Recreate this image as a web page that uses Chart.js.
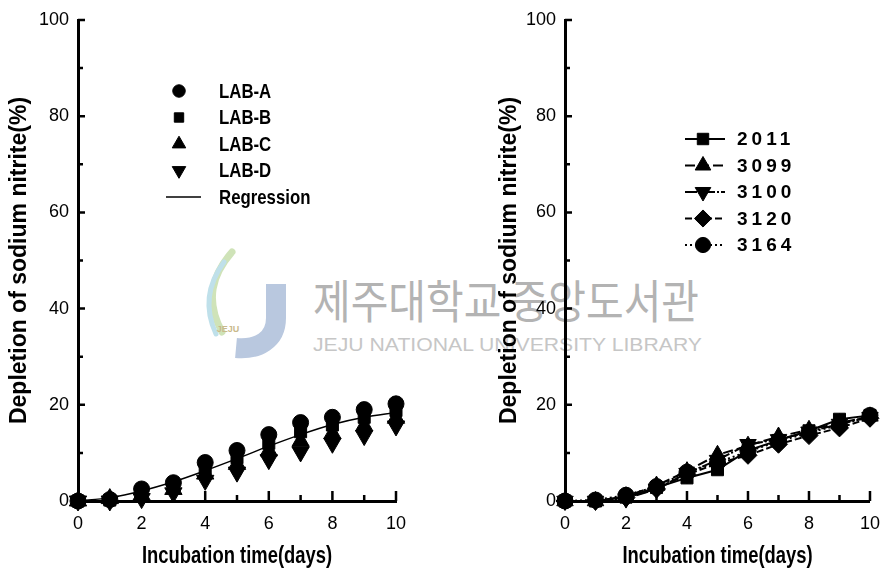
<!DOCTYPE html>
<html>
<head>
<meta charset="utf-8">
<script src="https://cdn.jsdelivr.net/npm/chart.js@4.4.1/dist/chart.umd.min.js"></script>
<style>
  html, body { margin: 0; padding: 0; background: #fff; }
  #wrap { position: relative; width: 892px; height: 575px; overflow: hidden; }
  #wrap svg, #wrap canvas { position: absolute; top: 0; }
  #wm { left: 0; }
  #left { left: 0; }
  #right { left: 446px; }
</style>
</head>
<body>
<div id="wrap">
  <svg id="wm" width="892" height="575" viewBox="0 0 892 575">
    <!-- library stamp behind the plots -->
    <path d="M232 252 C212 275 205 300 222 332" fill="none" stroke="#cfe3b8" stroke-width="7" stroke-linecap="round"/>
    <path d="M224 262 C207 285 204 308 216 334" fill="none" stroke="#bfe0ea" stroke-width="5" stroke-linecap="round"/>
    <path d="M276 284 L276 318 C276 340 258 350 236 348" fill="none" stroke="#b9c8df" stroke-width="20" stroke-linecap="butt"/>
    <text x="228" y="332" font-family="Liberation Sans" font-size="9" font-weight="bold" fill="#c9b98c" text-anchor="middle">JEJU</text>
    <text x="313" y="318" font-family="Noto Sans CJK KR" font-size="46" fill="#b3b3b3" textLength="386" lengthAdjust="spacingAndGlyphs">제주대학교 중앙도서관</text>
    <text x="313" y="351" font-family="Liberation Sans" font-size="19" fill="#c6c6c6" textLength="389" lengthAdjust="spacingAndGlyphs">JEJU NATIONAL UNIVERSITY LIBRARY</text>
  </svg>
  <canvas id="left" width="446" height="575"></canvas>
  <canvas id="right" width="446" height="575"></canvas>
</div>
<script>
// Incubation days (x) and tick labels
const days = [0, 1, 2, 3, 4, 5, 6, 7, 8, 9, 10];
const xTickLabels = [0, 2, 4, 6, 8, 10];
const yTickLabels = [0, 20, 40, 60, 80, 100];
const xTitle = 'Incubation time(days)';
const yTitle = 'Depletion of sodium nitrite(%)';

// Left panel: nitrite depletion (%) by lactic acid bacteria strains
const labA = [0, 0.3, 2.5, 3.8, 8.0, 10.5, 13.8, 16.3, 17.4, 19.0, 20.2];
const labB = [0, 0.2, 1.8, 3.0, 6.8, 9.0, 12.0, 14.4, 15.8, 17.4, 18.8];
const labC = [0, 0.5, 1.2, 2.4, 5.6, 7.6, 10.4, 12.4, 14.0, 15.6, 17.2];
const labD = [0, 0.0, 0.5, 1.7, 4.3, 6.0, 8.6, 10.2, 12.0, 13.6, 15.6];
const regression = [0, 0.7, 2.1, 4.0, 6.3, 8.8, 11.4, 13.8, 15.9, 17.4, 18.4];

// Right panel: nitrite depletion (%) by reference strains
const s2011 = [0, 0, 0.8, 2.8, 4.8, 6.5, 10.5, 12.6, 14.6, 17.0, 17.8];
const s3099 = [0, 0, 1.0, 3.2, 6.2, 9.6, 11.5, 13.4, 14.8, 16.2, 17.6];
const s3100 = [0, 0, 0.5, 2.5, 5.8, 8.5, 11.8, 12.8, 14.4, 16.0, 17.4];
const s3120 = [0, 0, 0.7, 2.5, 5.5, 7.8, 9.5, 11.8, 13.6, 15.2, 17.2];
const s3164 = [0, 0.2, 1.2, 3.0, 6.0, 8.0, 10.3, 12.4, 14.2, 15.8, 17.8];

const xy = vals => vals.map((v, i) => ({ x: days[i], y: v }));

// Text drawn with a horizontal squeeze (condensed face)
function squeezedText(ctx, text, x, y, font, sx, align) {
  ctx.save();
  ctx.font = font;
  ctx.textBaseline = 'middle';
  ctx.textAlign = align;
  ctx.translate(x, y);
  ctx.scale(sx, 1);
  ctx.fillText(text, 0, 0);
  ctx.restore();
}

// Inward tick marks on both axes, plus the condensed x-axis title
const innerTicks = {
  id: 'innerTicks',
  afterDatasetsDraw(chart) {
    const { ctx, chartArea: a, scales: { x, y } } = chart;
    ctx.save();
    ctx.strokeStyle = '#000';
    ctx.lineWidth = 2.5;
    ctx.beginPath();
    y.ticks.forEach(t => {
      if (t.value === 0) return;
      const py = y.getPixelForValue(t.value);
      const len = yTickLabels.includes(t.value) ? 7 : 5;
      ctx.moveTo(a.left, py);
      ctx.lineTo(a.left + len, py);
    });
    x.ticks.forEach(t => {
      if (t.value === 0) return;
      const px = x.getPixelForValue(t.value);
      const len = xTickLabels.includes(t.value) ? 10 : 6;
      ctx.moveTo(px, a.bottom);
      ctx.lineTo(px, a.bottom - len);
    });
    ctx.stroke();
    ctx.fillStyle = '#000';
    squeezedText(ctx, xTitle, (x.left + x.right) / 2, 557, "bold 23px 'Liberation Sans'", 0.8, 'center');
    ctx.restore();
  }
};

// Legend drawn from the datasets' own styles
const markLegend = {
  id: 'markLegend',
  afterDraw(chart, args, o) {
    const { ctx } = chart;
    ctx.save();
    chart.data.datasets.forEach((ds, i) => {
      const y = o.top + i * o.gap;
      ctx.strokeStyle = '#000';
      ctx.fillStyle = '#000';
      if (o.lines || ds.showLine) {
        ctx.lineWidth = o.lineWidth;
        ctx.setLineDash(ds.borderDash || []);
        ctx.beginPath();
        ctx.moveTo(o.lineFrom, y);
        ctx.lineTo(o.lineTo, y);
        ctx.stroke();
        ctx.setLineDash([]);
      }
      if (ds.pointRadius > 0) {
        ctx.lineWidth = 1;
        Chart.helpers.drawPoint(ctx, {
          pointStyle: ds.pointStyle,
          radius: ds.pointRadius * o.markScale,
          rotation: ds.pointRotation || 0,
          borderWidth: 1
        }, o.markX, y);
      }
      if (o.squeeze) {
        squeezedText(ctx, ds.label, o.textX, y + 1, o.font, o.squeeze, 'left');
      } else {
        ctx.font = o.font;
        ctx.letterSpacing = o.spacing || '0px';
        ctx.textBaseline = 'middle';
        ctx.textAlign = 'left';
        ctx.fillText(ds.label, o.textX, y + 1);
        ctx.letterSpacing = '0px';
      }
    });
    ctx.restore();
  }
};

function makeChart(id, datasets, cfg) {
  return new Chart(document.getElementById(id), {
    type: 'line',
    data: { datasets },
    plugins: [innerTicks, markLegend],
    options: {
      responsive: false,
      animation: false,
      devicePixelRatio: 1,
      layout: { padding: { left: 0, top: 20, right: cfg.padRight, bottom: 0 } },
      elements: { line: { borderColor: '#000' }, point: { backgroundColor: '#000', borderColor: '#000' } },
      plugins: {
        legend: { display: false },
        tooltip: { enabled: false },
        markLegend: cfg.legend
      },
      scales: {
        x: {
          type: 'linear', min: 0, max: 10,
          afterFit: s => { s.height = 74; },
          grid: { display: false, drawTicks: false },
          border: { display: true, color: '#000', width: 3 },
          ticks: {
            stepSize: 1, autoSkip: false, maxRotation: 0, padding: 12, color: '#000',
            font: { family: 'Liberation Sans', size: 18 },
            callback: v => xTickLabels.includes(v) ? String(v) : ''
          },
          title: { display: false, text: xTitle }
        },
        y: {
          min: 0, max: 100,
          afterFit: s => { s.width = cfg.yWidth; },
          grid: { display: false, drawTicks: false },
          border: { display: true, color: '#000', width: 3 },
          ticks: {
            stepSize: 10, autoSkip: false, padding: 9, color: '#000',
            font: { family: 'Liberation Sans', size: 18 },
            callback: v => yTickLabels.includes(v) ? String(v) : ''
          },
          title: {
            display: true, text: yTitle, color: '#000',
            font: { family: 'Liberation Sans', size: 23, weight: 'bold' },
            padding: { top: cfg.yTitlePad, bottom: 0 }
          }
        }
      }
    }
  });
}

const pointSet = (label, vals, style, r, rot) => ({
  label, data: xy(vals), showLine: false, pointStyle: style, pointRadius: r,
  pointRotation: rot || 0, pointBorderWidth: 1, clip: false
});

makeChart('left', [
  pointSet('LAB-A', labA, 'circle', 8),
  pointSet('LAB-B', labB, 'rect', 8.5),
  pointSet('LAB-C', labC, 'triangle', 10),
  pointSet('LAB-D', labD, 'triangle', 10, 180),
  {
    label: 'Regression', data: xy(regression), showLine: true, pointRadius: 0,
    borderWidth: 1.5, cubicInterpolationMode: 'monotone', clip: false
  }
], {
  yWidth: 78, padRight: 50, yTitlePad: 6,
  legend: { top: 91, gap: 26.5, markX: 179, lineFrom: 166, lineTo: 201, textX: 219,
            lineWidth: 1.5, markScale: 0.78,
            font: "bold 21px 'Liberation Sans'", squeeze: 0.8 }
});

const lineSet = (label, vals, style, r, dash, rot) => ({
  label, data: xy(vals), showLine: true, borderWidth: 2, borderDash: dash,
  pointStyle: style, pointRadius: r, pointRotation: rot || 0, pointBorderWidth: 1, clip: false
});

makeChart('right', [
  lineSet('2011', s2011, 'rect', 8.5, []),
  lineSet('3099', s3099, 'triangle', 9.5, [10, 4]),
  lineSet('3100', s3100, 'triangle', 9.5, [12, 2, 2, 2], 180),
  lineSet('3120', s3120, 'rectRot', 9, [7, 3]),
  lineSet('3164', s3164, 'circle', 8, [2, 3])
], {
  yWidth: 119, padRight: 14, yTitlePad: 50,
  legend: { top: 139, gap: 26.5, markX: 257, lineFrom: 239, lineTo: 279, textX: 291, lines: true,
            lineWidth: 2, markScale: 0.95,
            font: "bold 19px 'Liberation Sans'", spacing: '4px' }
});
</script>
</body>
</html>
